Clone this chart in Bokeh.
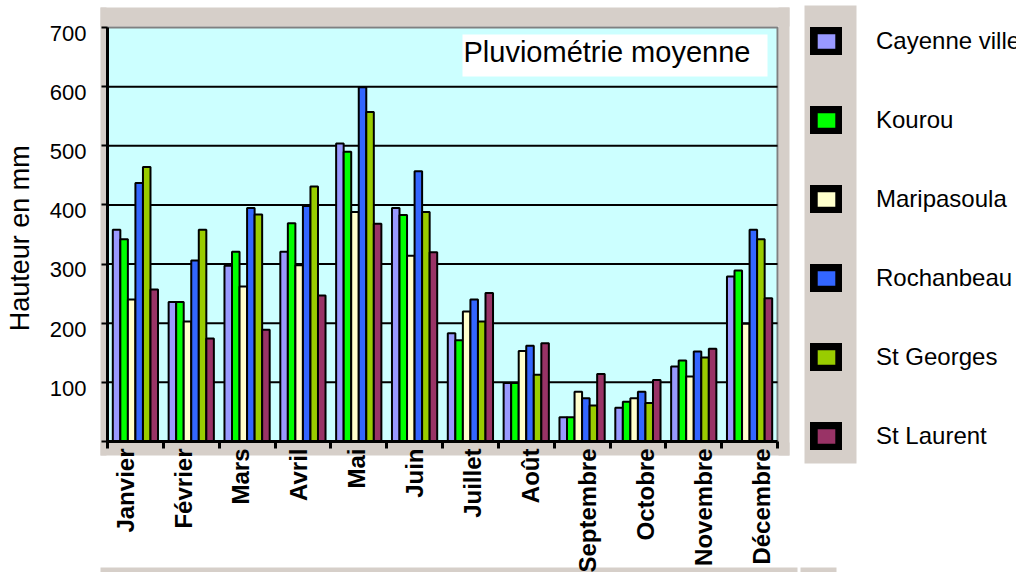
import math
import numpy as np
from bokeh.plotting import figure
from bokeh.models import (Range1d, FixedTicker, LinearAxis, BoxAnnotation,
                          Label, Legend, LegendItem, ColumnDataSource)
from bokeh.embed import file_html
from bokeh.resources import INLINE

# ---------------- data ----------------
months = ["Janvier", "Février", "Mars", "Avril", "Mai", "Juin", "Juillet",
          "Août", "Septembre", "Octobre", "Novembre", "Décembre"]
stations = ["Cayenne ville", "Kourou", "Maripasoula", "Rochanbeau",
            "St Georges", "St Laurent"]
cayenne     = [358, 236, 297, 321, 504, 395, 183,  99,  41,  57, 127, 279]
kourou      = [342, 236, 321, 369, 490, 383, 171,  99,  41,  67, 137, 289]
maripasoula = [240, 203, 262, 298, 388, 314, 220, 153,  84,  73, 110, 199]
rochanbeau  = [437, 306, 395, 398, 599, 457, 240, 162,  73,  84, 152, 358]
st_georges  = [464, 358, 384, 431, 557, 388, 203, 113,  61,  65, 142, 342]
st_laurent  = [257, 174, 189, 247, 368, 320, 251, 166, 114, 104, 157, 242]
series = [cayenne, kourou, maripasoula, rochanbeau, st_georges, st_laurent]
colors = ["#9999FF", "#00FF00", "#FFFFCC", "#3366FF", "#99CC00", "#993366"]
y_tick_values = [100, 200, 300, 400, 500, 600, 700]
title_text = "Pluviométrie moyenne"
y_title = "Hauteur  en mm"

# ---------------- layout constants (picture pixels) ----------------
FONT = "Liberation Sans"
BEIGE = "#D6CFC9"
PLOT_BG = "#CCFFFF"
W, H = 1016, 572                 # figure size (page has no margin)
AX_L, AX_R, AX_T, AX_B = 107, 777, 27, 441   # plot area
N = len(months)
YMAX = 700
XPX = (AX_R - AX_L) / N          # px per month
YPX = (AX_B - AX_T) / YMAX       # px per mm
BAR_W = 0.135

x_range = Range1d(-AX_L / XPX, N + (W - AX_R) / XPX)
y_range = Range1d(-(H - AX_B) / YPX, YMAX + AX_T / YPX)

p = figure(width=W, height=H, x_range=x_range, y_range=y_range,
           output_backend="svg", toolbar_location=None, title=None,
           x_axis_type=None, y_axis_type=None, min_border=0)
p.background_fill_color = "white"
p.border_fill_color = "white"
p.outline_line_color = None


def sx(xp):
    return xp


def sy(yp):
    return H - yp


def page_box(x0, y0, x1, y1, color, level="underlay"):
    return BoxAnnotation(left=sx(x0), right=sx(x1), top=sy(y0), bottom=sy(y1),
                         left_units="screen", right_units="screen",
                         top_units="screen", bottom_units="screen",
                         fill_color=color, fill_alpha=1, line_alpha=0,
                         level=level)


# beige surround of the plot area, legend column and bottom strips
for box in [(100, 7, 789, 26), (100, 7, 106, 455), (778, 7, 789, 455),
            (100, 442, 789, 455), (804, 5, 856, 463),
            (100, 567, 797, 572), (800, 567, 836, 572)]:
    p.add_layout(page_box(*box, BEIGE))

# cyan plot area with grey top/right border
p.add_layout(BoxAnnotation(left=0, right=N, bottom=0, top=YMAX,
                           fill_color=PLOT_BG, fill_alpha=1,
                           line_color="#808080", line_width=2, line_alpha=1,
                           level="underlay"))

# horizontal grid lines
grid_vals = y_tick_values[:-1]
p.segment(x0=[0] * len(grid_vals), x1=[N] * len(grid_vals), y0=grid_vals, y1=grid_vals,
          line_color="black", line_width=2)

# bars
idx = np.arange(N)
for i, (vals, c) in enumerate(zip(series, colors)):
    src = ColumnDataSource(dict(x=idx + 0.5 + (i - 2.5) * BAR_W, top=vals))
    p.vbar(x="x", top="top", bottom=0, width=BAR_W, source=src,
           fill_color=c, line_color="black", line_width=2)

# y axis (labels sit slightly below their tick, as in the original)
ylab_pos = [v - 10 for v in y_tick_values]
yaxis = LinearAxis(fixed_location=0, bounds=(0, YMAX),
                   ticker=FixedTicker(ticks=ylab_pos, minor_ticks=[0] + y_tick_values),
                   major_label_overrides={pos: str(v) for pos, v in zip(ylab_pos, y_tick_values)},
                   axis_line_color="black", axis_line_width=3,
                   major_tick_out=0, major_tick_in=0,
                   minor_tick_out=6, minor_tick_in=0,
                   minor_tick_line_color="black", minor_tick_line_width=2,
                   major_label_standoff=15,
                   major_label_text_font=FONT, major_label_text_font_size="22px",
                   major_label_text_color="black",
                   axis_label=y_title, axis_label_standoff=12,
                   axis_label_text_font=FONT, axis_label_text_font_size="27px",
                   axis_label_text_font_style="normal", axis_label_text_color="black")
p.add_layout(yaxis, "left")

# x axis: month boundaries as ticks, month names as labels
label_pos = [round(0.317 + 1.036 * k, 3) for k in range(N)]
xaxis = LinearAxis(fixed_location=0, bounds=(0, N),
                   ticker=FixedTicker(ticks=label_pos, minor_ticks=list(range(N + 1))),
                   major_label_overrides=dict(zip(label_pos, months)),
                   major_label_orientation=math.pi / 2,
                   axis_line_color="black", axis_line_width=3,
                   major_tick_out=0, major_tick_in=0,
                   minor_tick_out=7, minor_tick_in=0,
                   minor_tick_line_color="black", minor_tick_line_width=3,
                   major_label_standoff=0,
                   major_label_text_font=FONT, major_label_text_font_size="24px",
                   major_label_text_font_style="bold", major_label_text_color="black")
p.add_layout(xaxis, "below")

# title box
p.add_layout(page_box(462, 34, 767, 76, "white", level="annotation"))
p.add_layout(Label(x=sx(463), y=sy(51), x_units="screen", y_units="screen",
                   text=title_text, text_font=FONT, text_font_size="29px",
                   text_baseline="middle", text_color="black"))

# legend (legend-only renderers: one NaN bar each, never visible)
items = []
for name, c in zip(stations, colors):
    r = p.vbar(x=[np.nan], top=[np.nan], width=0.1, fill_color=c,
               line_color="black", line_width=8, line_join="miter")
    items.append(LegendItem(label=name, renderers=[r]))
legend = Legend(items=items, location=(sx(810), sy(451)), orientation="vertical",
                glyph_width=32, glyph_height=28, label_height=30, spacing=49,
                label_standoff=34, padding=0, margin=0,
                background_fill_alpha=0, border_line_alpha=0,
                label_text_font=FONT, label_text_font_size="24px",
                label_text_color="black")
p.add_layout(legend)

open("out.html", "w").write(file_html(p, INLINE))
